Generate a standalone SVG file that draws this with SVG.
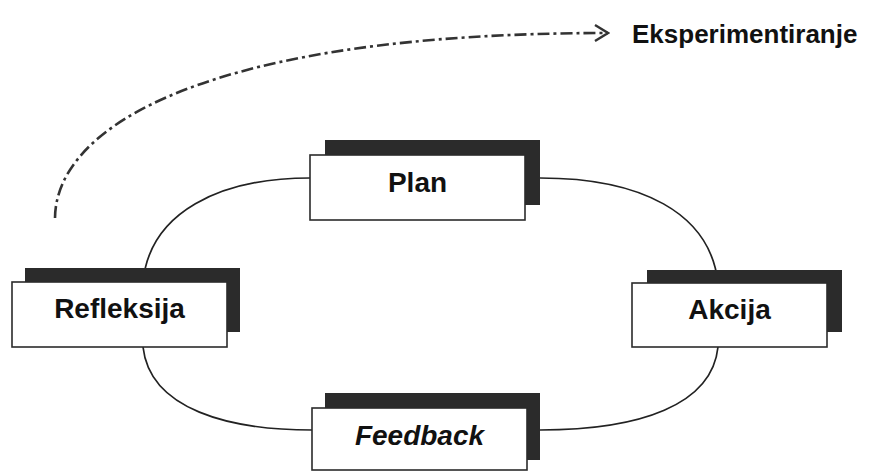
<svg xmlns="http://www.w3.org/2000/svg" width="880" height="472" viewBox="0 0 880 472">
<defs>
<style>
.shadow{fill:#2b2b2b;}
.box{fill:#ffffff;stroke:#2b2b2b;stroke-width:1.6;}
.lbl{font-family:"Liberation Sans",Arial,sans-serif;font-weight:bold;font-size:28px;fill:#111;text-anchor:middle;}
.loop{fill:none;stroke:#222;stroke-width:1.7;}
.exp{fill:none;stroke:#333;stroke-width:2.6;stroke-dasharray:12 4 3 4;}
</style>
<marker id="arr" viewBox="0 0 18 20" refX="16" refY="10" markerWidth="18" markerHeight="20" markerUnits="userSpaceOnUse" orient="auto">
<path d="M3,2 L16,10 L3,18" fill="none" stroke="#333" stroke-width="2.4"/>
</marker>
</defs>
<rect width="880" height="472" fill="#ffffff"/>
<g id="connectors">
<path class="loop" d="M310,178 C220,178 150,212 143,282"/>
<path class="loop" d="M540,178 C640,178 710,212 718,283"/>
<path class="loop" d="M143,347 C150,410 230,430 312,430"/>
<path class="loop" d="M540,430 C640,430 712,405 718,347"/>
<path class="exp" d="M55,218 C56,125 210,33 608,33" marker-end="url(#arr)"/>
</g>
<g id="eksperimentiranje">
<text x="632" y="43" style="font-family:'Liberation Sans',Arial,sans-serif;font-weight:bold;font-size:26px;fill:#111;">Eksperimentiranje</text>
</g>
<g id="plan">
<rect class="shadow" x="325" y="140" width="215" height="65"/>
<rect class="box" x="310" y="155" width="215" height="65"/>
<text class="lbl" x="417.5" y="192">Plan</text>
</g>
<g id="refleksija">
<rect class="shadow" x="25" y="268" width="215" height="64"/>
<rect class="box" x="12" y="282" width="215" height="65"/>
<text class="lbl" x="119.5" y="318">Refleksija</text>
</g>
<g id="akcija">
<rect class="shadow" x="647" y="270" width="195" height="62"/>
<rect class="box" x="632" y="283" width="195" height="64"/>
<text class="lbl" x="729.5" y="319">Akcija</text>
</g>
<g id="feedback">
<rect class="shadow" x="325" y="393" width="215" height="67"/>
<rect class="box" x="312" y="408" width="215" height="62"/>
<text class="lbl" x="419.5" y="445" font-style="italic">Feedback</text>
</g>
</svg>
